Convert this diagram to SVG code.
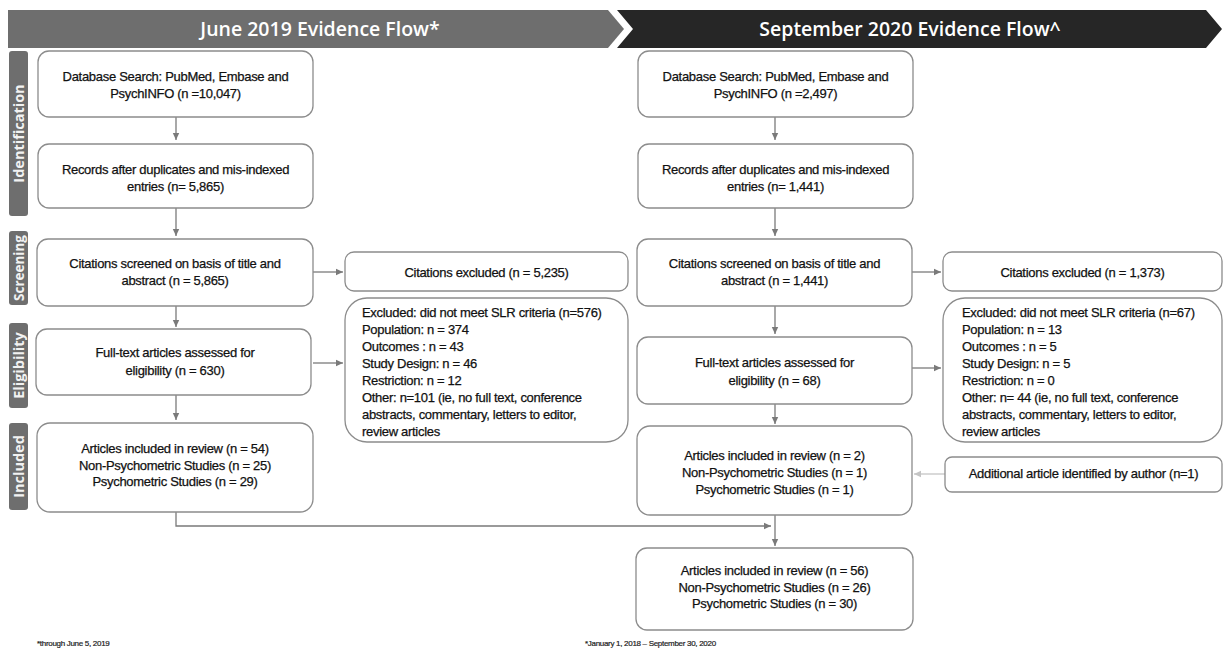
<svg xmlns="http://www.w3.org/2000/svg" width="1225" height="653" viewBox="0 0 1225 653">
<style>
.bx{fill:#fff;stroke:#8c8c8c;stroke-width:1.3}
.t{font-family:"Liberation Sans",Arial,sans-serif;font-size:13px;fill:#111;stroke:#111;stroke-width:0.25;letter-spacing:-0.3px}
.c{text-anchor:middle}
.hd{font-family:"Open Sans","Liberation Sans",sans-serif;font-size:19.5px;font-weight:600;fill:#fff;text-anchor:middle}
.tab{fill:#6e6e6e}
.tl{font-family:"Open Sans","Liberation Sans",sans-serif;font-size:14.5px;font-weight:700;fill:#f2f2f2;text-anchor:middle}
.ln{fill:none;stroke:#7a7a7a;stroke-width:1.3}
.ln2{fill:none;stroke:#c4c4c4;stroke-width:1.3}
.fn{font-family:"Liberation Sans",Arial,sans-serif;font-size:8px;fill:#222;stroke:#222;stroke-width:0.2;letter-spacing:-0.3px}
</style>
<defs>
<marker id="ah" markerWidth="8" markerHeight="8" refX="7" refY="4" orient="auto" markerUnits="userSpaceOnUse">
<path d="M0,0.8 L7,4 L0,7.2 Z" fill="#7a7a7a"/>
</marker>
<marker id="ah2" markerWidth="8" markerHeight="8" refX="7" refY="4" orient="auto" markerUnits="userSpaceOnUse">
<path d="M0,0.8 L7,4 L0,7.2 Z" fill="#c4c4c4"/>
</marker>
</defs>
<rect width="1225" height="653" fill="#fff"/>

<g id="banner-left">
<polygon points="8,10 608,10 624,29 608,48 8,48" fill="#6e6e6e"/>
<text class="hd" x="320" y="36">June 2019 Evidence Flow*</text>
</g>
<g id="banner-right">
<polygon points="617,10 1206,10 1222,29 1206,48 617,48 633,29" fill="#262626"/>
<text class="hd" x="910" y="36">September 2020 Evidence Flow^</text>
</g>

<g id="tab-identification">
<rect class="tab" x="9" y="51" width="19" height="165" rx="3"/>
<text class="tl" transform="translate(23.5,133.5) rotate(-90)">Identification</text>
</g>
<g id="tab-screening">
<rect class="tab" x="9" y="231" width="19" height="74" rx="3"/>
<text class="tl" transform="translate(23.5,268) rotate(-90)" style="font-size:13.5px">Screening</text>
</g>
<g id="tab-eligibility">
<rect class="tab" x="9" y="323" width="19" height="85" rx="3"/>
<text class="tl" transform="translate(23.5,365.5) rotate(-90)">Eligibility</text>
</g>
<g id="tab-included">
<rect class="tab" x="9" y="423" width="19" height="87" rx="3"/>
<text class="tl" transform="translate(23.5,466.5) rotate(-90)">Included</text>
</g>

<g id="connectors">
<line class="ln" x1="176" y1="117" x2="176" y2="140" marker-end="url(#ah)"/>
<line class="ln" x1="176" y1="208" x2="176" y2="236" marker-end="url(#ah)"/>
<line class="ln" x1="176" y1="306" x2="176" y2="327" marker-end="url(#ah)"/>
<line class="ln" x1="176" y1="395" x2="176" y2="420" marker-end="url(#ah)"/>
<line class="ln" x1="313" y1="272" x2="343" y2="272" marker-end="url(#ah)"/>
<line class="ln" x1="313" y1="363" x2="343" y2="363" marker-end="url(#ah)"/>
<polyline class="ln" points="176,512 176,526 771,526" marker-end="url(#ah)"/>
<line class="ln" x1="775" y1="117" x2="775" y2="140" marker-end="url(#ah)"/>
<line class="ln" x1="775" y1="208" x2="775" y2="236" marker-end="url(#ah)"/>
<line class="ln" x1="775" y1="306" x2="775" y2="334" marker-end="url(#ah)"/>
<line class="ln" x1="775" y1="404" x2="775" y2="424" marker-end="url(#ah)"/>
<line class="ln" x1="912" y1="272" x2="941" y2="272" marker-end="url(#ah)"/>
<line class="ln" x1="912" y1="368" x2="941" y2="368" marker-end="url(#ah)"/>
<line class="ln2" x1="945" y1="474" x2="914" y2="474" marker-end="url(#ah2)"/>
<line class="ln" x1="775" y1="515" x2="775" y2="546" marker-end="url(#ah)"/>
</g>

<g id="a-search">
<rect class="bx" x="38" y="51" width="275" height="66" rx="11"/>
<text class="t c" x="175.5" y="81">Database Search: PubMed, Embase and</text>
<text class="t c" x="175.5" y="98">PsychINFO (n =10,047)</text>
</g>
<g id="a-records">
<rect class="bx" x="38" y="144" width="275" height="64" rx="11"/>
<text class="t c" x="175.5" y="174">Records after duplicates and mis-indexed</text>
<text class="t c" x="175.5" y="191">entries (n= 5,865)</text>
</g>
<g id="a-screened">
<rect class="bx" x="37" y="239" width="276" height="67" rx="11"/>
<text class="t c" x="175" y="268">Citations screened on basis of title and</text>
<text class="t c" x="175" y="285">abstract (n = 5,865)</text>
</g>
<g id="a-excluded">
<rect class="bx" x="345" y="252" width="283" height="39" rx="9"/>
<text class="t c" x="486.5" y="277">Citations excluded (n = 5,235)</text>
</g>
<g id="a-fulltext">
<rect class="bx" x="36" y="329" width="275" height="66" rx="11"/>
<text class="t c" x="175" y="357">Full-text articles assessed for</text>
<text class="t c" x="175" y="375">eligibility (n = 630)</text>
</g>
<g id="a-criteria">
<rect class="bx" x="345" y="298" width="283" height="144" rx="22"/>
<text class="t" x="362" y="317">Excluded: did not meet SLR criteria (n=576)</text>
<text class="t" x="362" y="334">Population: n = 374</text>
<text class="t" x="362" y="351">Outcomes : n = 43</text>
<text class="t" x="362" y="368">Study Design: n = 46</text>
<text class="t" x="362" y="385">Restriction: n = 12</text>
<text class="t" x="362" y="402">Other: n=101  (ie, no full text, conference</text>
<text class="t" x="362" y="419">abstracts, commentary, letters to editor,</text>
<text class="t" x="362" y="436">review articles</text>
</g>
<g id="a-included">
<rect class="bx" x="37" y="423" width="276" height="89" rx="13"/>
<text class="t c" x="175" y="453">Articles included in review (n = 54)</text>
<text class="t c" x="175" y="470">Non-Psychometric Studies (n = 25)</text>
<text class="t c" x="175" y="486">Psychometric Studies (n = 29)</text>
</g>

<g id="b-search">
<rect class="bx" x="638" y="51" width="275" height="66" rx="11"/>
<text class="t c" x="775.5" y="81">Database Search: PubMed, Embase and</text>
<text class="t c" x="775.5" y="98">PsychINFO (n =2,497)</text>
</g>
<g id="b-records">
<rect class="bx" x="638" y="144" width="275" height="64" rx="11"/>
<text class="t c" x="775.5" y="174">Records after duplicates and mis-indexed</text>
<text class="t c" x="775.5" y="191">entries (n= 1,441)</text>
</g>
<g id="b-screened">
<rect class="bx" x="637" y="239" width="275" height="67" rx="11"/>
<text class="t c" x="774.5" y="268">Citations screened on basis of title and</text>
<text class="t c" x="774.5" y="285">abstract (n = 1,441)</text>
</g>
<g id="b-excluded">
<rect class="bx" x="943" y="252" width="279" height="39" rx="9"/>
<text class="t c" x="1082.5" y="277">Citations excluded (n = 1,373)</text>
</g>
<g id="b-fulltext">
<rect class="bx" x="637" y="337" width="275" height="67" rx="11"/>
<text class="t c" x="774.5" y="367">Full-text articles assessed for</text>
<text class="t c" x="774.5" y="385">eligibility (n = 68)</text>
</g>
<g id="b-criteria">
<rect class="bx" x="943" y="298" width="279" height="144" rx="22"/>
<text class="t" x="962" y="317">Excluded: did not meet SLR criteria (n=67)</text>
<text class="t" x="962" y="334">Population: n = 13</text>
<text class="t" x="962" y="351">Outcomes : n = 5</text>
<text class="t" x="962" y="368">Study Design: n = 5</text>
<text class="t" x="962" y="385">Restriction: n = 0</text>
<text class="t" x="962" y="402">Other: n= 44  (ie, no full text, conference</text>
<text class="t" x="962" y="419">abstracts, commentary, letters to editor,</text>
<text class="t" x="962" y="436">review articles</text>
</g>
<g id="b-included">
<rect class="bx" x="637" y="426" width="275" height="89" rx="13"/>
<text class="t c" x="774.5" y="460">Articles included in review (n = 2)</text>
<text class="t c" x="774.5" y="477">Non-Psychometric Studies (n = 1)</text>
<text class="t c" x="774.5" y="494">Psychometric Studies (n = 1)</text>
</g>
<g id="b-additional">
<rect class="bx" x="945" y="457" width="277" height="35" rx="7"/>
<text class="t c" x="1083.5" y="478">Additional article identified by author (n=1)</text>
</g>
<g id="final-included">
<rect class="bx" x="636" y="548" width="277" height="82" rx="11"/>
<text class="t c" x="774.5" y="575">Articles included in review (n = 56)</text>
<text class="t c" x="774.5" y="592">Non-Psychometric Studies (n = 26)</text>
<text class="t c" x="774.5" y="608">Psychometric Studies (n = 30)</text>
</g>

<g id="footnotes">
<text class="fn" x="37" y="646">*through June 5, 2019</text>
<text class="fn" x="585" y="646">*January 1, 2018 – September 30, 2020</text>
</g>
</svg>
